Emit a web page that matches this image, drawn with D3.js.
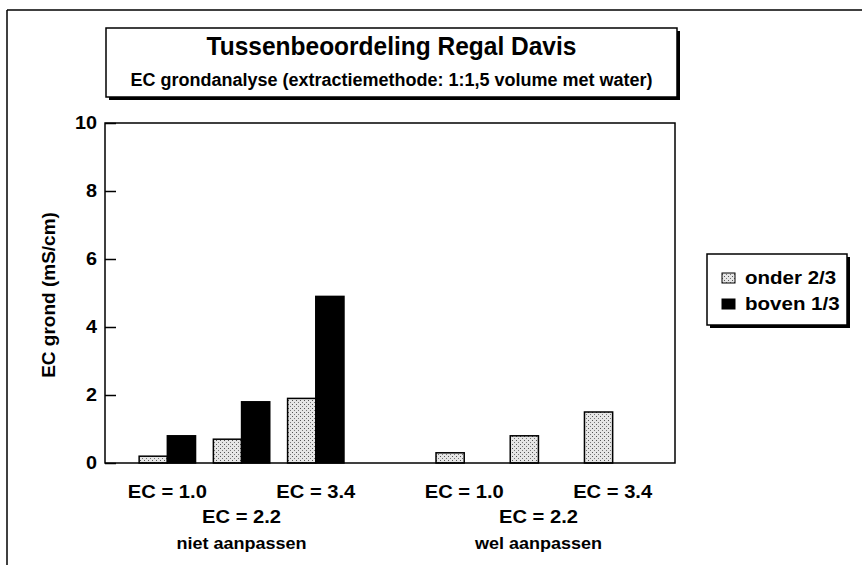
<!DOCTYPE html>
<html>
<head>
<meta charset="utf-8">
<script src="https://cdn.jsdelivr.net/npm/d3@7"></script>
<style>
  html, body { margin: 0; padding: 0; background: #fff; }
  svg { display: block; }
  text { font-family: "Liberation Sans", Arial, Helvetica, sans-serif; font-weight: bold; fill: #000; }
</style>
</head>
<body>
<script>
// Chart data
const groups = ["niet aanpassen", "wel aanpassen"];
const categories = ["EC = 1.0", "EC = 2.2", "EC = 3.4"];
const seriesNames = ["onder 2/3", "boven 1/3"];
const onderValues = [[0.2, 0.7, 1.9], [0.3, 0.8, 1.5]];
const bovenValues = [[0.8, 1.8, 4.9], [null, null, null]];
const yTicks = [0, 2, 4, 6, 8, 10];
const titleText = "Tussenbeoordeling Regal Davis";
const subtitleText = "EC grondanalyse (extractiemethode: 1:1,5 volume met water)";
const yTitle = "EC grond (mS/cm)";

const W = 864, H = 565;
const plot = { left: 105, top: 123, right: 675, bottom: 463 };

const svg = d3.select("body").append("svg").attr("width", W).attr("height", H);

// text helper with horizontal stretch factor
function label(x, y, str, size, sx, anchor, rot) {
  return svg.append("text")
    .attr("transform", `translate(${x},${y})${rot ? ` rotate(${rot})` : ""} scale(${sx},1)`)
    .attr("text-anchor", anchor || "middle")
    .style("font-size", size + "px")
    .text(str);
}

// stippled fill for the lower-layer series
const defs = svg.append("defs");
const pat = defs.append("pattern").attr("id", "stipple")
  .attr("width", 4).attr("height", 4).attr("patternUnits", "userSpaceOnUse");
pat.append("rect").attr("width", 4).attr("height", 4).attr("fill", "#e6e6e6");
pat.append("rect").attr("x", 0).attr("y", 0).attr("width", 1).attr("height", 1).attr("fill", "#555");
pat.append("rect").attr("x", 2).attr("y", 2).attr("width", 1).attr("height", 1).attr("fill", "#777");

// outer chart frame (top and left edges)
svg.append("line").attr("x1", 7).attr("x2", 862).attr("y1", 10).attr("y2", 10)
  .attr("stroke", "#000").attr("stroke-width", 1.5);
svg.append("line").attr("x1", 7).attr("x2", 7).attr("y1", 10).attr("y2", H)
  .attr("stroke", "#000").attr("stroke-width", 1.5);

// scales
const y = d3.scaleLinear().domain([0, 10]).range([plot.bottom, plot.top]);
const x0 = d3.scaleBand().domain(groups).range([plot.left, plot.right])
  .paddingInner(0.25).paddingOuter(0.085);
const x1 = d3.scaleBand().domain(categories).range([0, x0.bandwidth()]);
const x2 = d3.scaleBand().domain(seriesNames).range([0, x1.bandwidth()])
  .paddingInner(0).paddingOuter(0.316);

// title box with shadow
const tb = { x: 106, y: 28, w: 571, h: 69 };
svg.append("rect").attr("x", tb.x + 3).attr("y", tb.y + 3).attr("width", tb.w).attr("height", tb.h).attr("fill", "#000");
svg.append("rect").attr("x", tb.x).attr("y", tb.y).attr("width", tb.w).attr("height", tb.h)
  .attr("fill", "#fff").attr("stroke", "#000").attr("stroke-width", 1.5);
label(tb.x + tb.w / 2, tb.y + 27, titleText, 25, 0.98);
label(tb.x + tb.w / 2, tb.y + 58, subtitleText, 18, 1.0);

// bars
const rows = [];
groups.forEach((g, gi) => {
  categories.forEach((c, ci) => {
    rows.push({ g, c, s: seriesNames[0], v: onderValues[gi][ci] });
    rows.push({ g, c, s: seriesNames[1], v: bovenValues[gi][ci] });
  });
});
svg.append("g").selectAll("rect").data(rows.filter(d => d.v != null)).join("rect")
  .attr("x", d => x0(d.g) + x1(d.c) + x2(d.s))
  .attr("y", d => y(d.v))
  .attr("width", x2.bandwidth())
  .attr("height", d => y(0) - y(d.v))
  .attr("fill", d => d.s === seriesNames[0] ? "url(#stipple)" : "#000")
  .attr("stroke", "#000").attr("stroke-width", 1.5);

// plot frame
svg.append("rect").attr("x", plot.left).attr("y", plot.top)
  .attr("width", plot.right - plot.left).attr("height", plot.bottom - plot.top)
  .attr("fill", "none").attr("stroke", "#000").attr("stroke-width", 1.5);

// y axis
const yAxis = svg.append("g").attr("transform", `translate(${plot.left},0)`)
  .call(d3.axisLeft(y).tickValues(yTicks).tickSize(-11).tickPadding(8).tickFormat(d3.format("d")));
yAxis.select(".domain").remove();
yAxis.selectAll(".tick line").attr("stroke", "#000").attr("stroke-width", 1.5);
yAxis.selectAll(".tick text").style("font-size", "18px").style("font-family", null)
  .attr("transform", "scale(1.1,1)").attr("x", -8 / 1.1);

label(55, (plot.top + plot.bottom) / 2 + 2, yTitle, 19, 1, "middle", -90);

// category labels, staggered over two rows
groups.forEach(g => {
  categories.forEach((c, ci) => {
    const cx = x0(g) + x1(c) + x1.bandwidth() / 2;
    label(cx, ci % 2 === 0 ? 498 : 523, c, 18, 1.12);
  });
  label(x0(g) + x0.bandwidth() / 2, 549, g, 17, 1.06);
});

// legend with shadow
const lg = { x: 707, y: 254, w: 140, h: 71 };
svg.append("rect").attr("x", lg.x + 3).attr("y", lg.y + 3).attr("width", lg.w).attr("height", lg.h).attr("fill", "#000");
svg.append("rect").attr("x", lg.x).attr("y", lg.y).attr("width", lg.w).attr("height", lg.h)
  .attr("fill", "#fff").attr("stroke", "#000").attr("stroke-width", 1.5);
seriesNames.forEach((s, i) => {
  const yy = lg.y + 24 + i * 26;
  svg.append("rect").attr("x", lg.x + 15).attr("y", yy - 5).attr("width", 13).attr("height", 10)
    .attr("fill", i === 0 ? "url(#stipple)" : "#000").attr("stroke", "#000").attr("stroke-width", 1);
  label(lg.x + 38, yy + 6, s, 18, 1.14, "start");
});
</script>
</body>
</html>
